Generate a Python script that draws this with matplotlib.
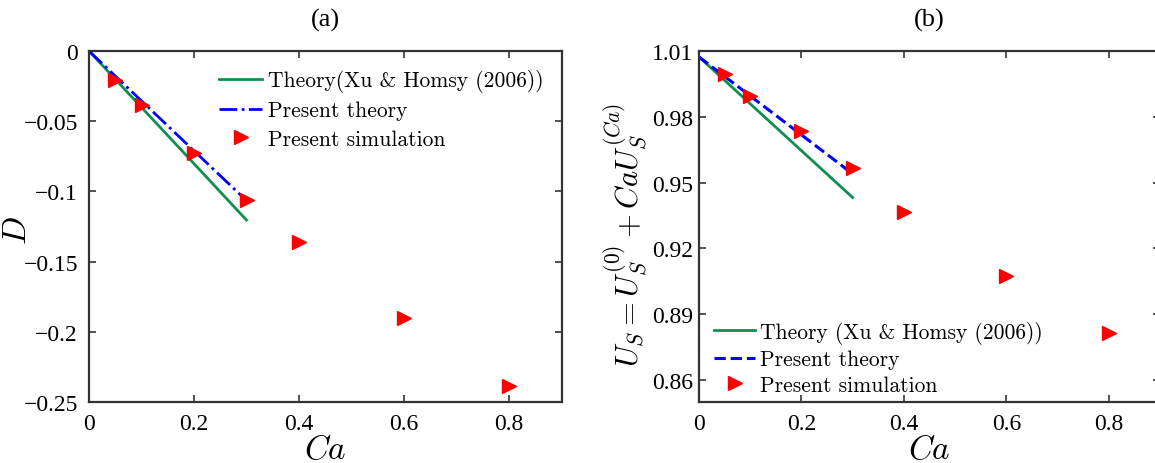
import numpy as np
import matplotlib.pyplot as plt

plt.rcParams['mathtext.fontset'] = 'cm'
plt.rcParams['font.family'] = ['Liberation Serif', 'DejaVu Serif']

#%% Datos
ca_theory = [0.0, 0.3]
ca_sim = [0.05, 0.1, 0.2, 0.3, 0.4, 0.6, 0.8]

# (a) deformacion D
d_xu = [0.0, -0.1204]
d_present = [0.0, -0.1066]
d_sim = [-0.0205, -0.0383, -0.0728, -0.1063, -0.1363, -0.1905, -0.2386]

# (b) velocidad U_S
us_xu = [1.0073, 0.9432]
us_present = [1.0073, 0.954]
us_sim = [0.9994, 0.9893, 0.9734, 0.9568, 0.9365, 0.9076, 0.8815]

xticks = [0, 0.2, 0.4, 0.6, 0.8]
yticks_a = [0, -0.05, -0.1, -0.15, -0.2, -0.25]
yticks_b = [0.86, 0.89, 0.92, 0.95, 0.98, 1.01]

green = '#0f8f4f'
blue = '#0000ff'
red = '#ff0000'
legfont = {'family': 'cmr10', 'size': 15.5}

fig = plt.figure(figsize=(11.55, 4.64), dpi=100)
ax1 = fig.add_axes([89/1155, 61/464, 472.5/1155, 351/464])
ax2 = fig.add_axes([699/1155, 61/464, 461/1155, 351/464])

for ax in (ax1, ax2):
    ax.tick_params(direction='in', top=True, right=True, labelsize=17,
                   length=5, width=1.2, color='#333333', pad=8)
    for s in ax.spines.values():
        s.set_linewidth(1.6)
        s.set_color('#333333')
    ax.set_xlim(0, 0.9)
    ax.set_xticks(xticks)
    ax.set_xticklabels(['0', '0.2', '0.4', '0.6', '0.8'])
    ax.set_xlabel('$Ca$', fontsize=24)
    ax.xaxis.set_label_coords(0.5, -0.093)

#%% (a)
ax1.plot(ca_theory, d_xu, color=green, lw=2, label='Theory(Xu & Homsy (2006))')
ax1.plot(ca_theory, d_present, color=blue, lw=2, ls='-.', label='Present theory')
ax1.plot(ca_sim, d_sim, ls='none', marker='>', ms=10, color=red,
         label='Present simulation')
ax1.set_ylim(-0.25, 0)
ax1.set_yticks(yticks_a)
ax1.set_yticklabels(['0', '\u22120.05', '\u22120.1', '\u22120.15', '\u22120.2', '\u22120.25'])
ax1.set_ylabel('$D$', fontsize=24)
ax1.yaxis.set_label_coords(-0.118, 0.49)
ax1.set_title('(a)', fontsize=19, pad=18)
ax1.legend(loc='upper right', frameon=False, prop=legfont, handlelength=2.0,
           handletextpad=0.25, labelspacing=0.4, borderaxespad=0.45)

#%% (b)
ax2.plot(ca_theory, us_xu, color=green, lw=2, label='Theory (Xu & Homsy (2006))')
ax2.plot(ca_theory, us_present, color=blue, lw=2.2, ls='--', label='Present theory')
ax2.plot(ca_sim, us_sim, ls='none', marker='>', ms=10, color=red,
         label='Present simulation')
ax2.set_ylim(0.85, 1.01)
ax2.set_yticks(yticks_b)
ax2.set_yticklabels(['0.86', '0.89', '0.92', '0.95', '0.98', '1.01'])
ax2.tick_params(axis='y', pad=4)
ax2.set_ylabel(r'$U_S=U_S^{(0)}+CaU_S^{(Ca)}$', fontsize=22)
ax2.yaxis.set_label_coords(-0.108, 0.48)
ax2.set_title('(b)', fontsize=19, pad=18)
ax2.legend(loc='lower left', bbox_to_anchor=(0.014, -0.004), frameon=False,
           prop=legfont, handlelength=1.9, handletextpad=0.25,
           labelspacing=0.28, borderaxespad=0)

plt.savefig('out.png', dpi=100)
